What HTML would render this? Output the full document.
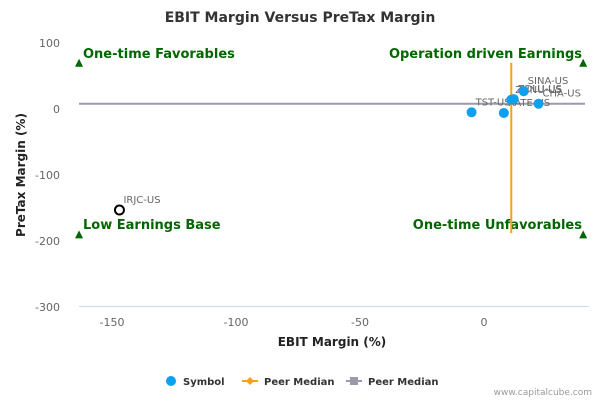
<!DOCTYPE html>
<html><head><meta charset="utf-8"><style>
body{margin:0;background:#fff;font-family:"DejaVu Sans","Liberation Sans",sans-serif}
text{font-family:"DejaVu Sans","Liberation Sans",sans-serif}
</style></head><body>
<svg id="c" width="600" height="400"></svg>
<script>
const names=["TST-US","RATE-US","ZHNU-US","ZDLU-US","SINA-US","CHA-US","IRJC-US"];
const ebit=[-5,8,11,12,16,22,-147];
const pretax=[-5,-6,14,15,27,8,-153];
const xTicks=[-150,-100,-50,0];
const yTicks=[100,0,-100,-200,-300];
const peerX=11, peerY=8;
const ns="http://www.w3.org/2000/svg";
const svg=document.getElementById('c');
const X=v=>484+v*2.48, Y=v=>109-v*0.66;
function mk(t,a,txt){const e=document.createElementNS(ns,t);for(const k in a)e.setAttribute(k,a[k]);if(txt!=null)e.textContent=txt;svg.appendChild(e);return e;}
let e;
e=mk('text',{x:300,y:22,'text-anchor':'middle','font-size':14,'font-weight':'bold',fill:'#333'},'EBIT Margin Versus PreTax Margin');

e=mk('line',{x1:79,x2:589,y1:306.5,y2:306.5,stroke:'#ccd6eb'});

xTicks.forEach(v=>{e=mk('text',{x:X(v),y:326,'text-anchor':'middle','font-size':11,fill:'#666'},v);
});
yTicks.forEach(v=>{e=mk('text',{x:60,y:Y(v)+4,'text-anchor':'end','font-size':11,fill:'#666'},v);
});
e=mk('text',{x:332,y:346,'text-anchor':'middle','font-size':12,'font-weight':'bold',fill:'#222'},'EBIT Margin (%)');

e=mk('text',{x:25,y:175,'text-anchor':'middle','font-size':12,'font-weight':'bold',fill:'#222',transform:'rotate(-90 25 175)'},'PreTax Margin (%)');

[[-163.3,70],[40,70],[-163.3,-190],[40,-190]].forEach(p=>{const x=X(p[0]),y=Y(p[1]);
e=mk('path',{d:`M${x-4} ${y+4}L${x} ${y-4}L${x+4} ${y+4}Z`,fill:'#006600'});
});
[["One-time Favorables",83,58,'start'],["Operation driven Earnings",582,58,'end'],["Low Earnings Base",83,229,'start'],["One-time Unfavorables",582,229,'end']].forEach(q=>{
e=mk('text',{x:q[1],y:q[2],'text-anchor':q[3],'font-size':13,'font-weight':'bold',fill:'#006600'},q[0]);
});
e=mk('line',{x1:79,x2:585,y1:Y(peerY),y2:Y(peerY),stroke:'#999aaa','stroke-width':2});

e=mk('line',{x1:X(peerX),x2:X(peerX),y1:Y(70),y2:Y(-188),stroke:'#f7a11a','stroke-width':2});

names.forEach((n,i)=>{const x=X(ebit[i]),y=Y(pretax[i]);const hl=n==="IRJC-US";
e=mk('circle',{cx:x,cy:y,r:hl?4.5:5,fill:hl?'#fff':'#0da0f0',stroke:hl?'#000':'none','stroke-width':2});

e=mk('text',{x:x+4,y:y-7,'font-size':10,fill:'#666'},n);
});
e=mk('circle',{cx:171,cy:381,r:5,fill:'#0da0f0'});
e=mk('text',{x:183,y:385,'font-size':10,'font-weight':'bold',fill:'#333'},'Symbol');
e=mk('line',{x1:242,x2:258,y1:381,y2:381,stroke:'#f7a11a','stroke-width':2});
e=mk('path',{d:'M250 377L254 381L250 385L246 381Z',fill:'#f7a11a'});
e=mk('text',{x:264,y:385,'font-size':10,'font-weight':'bold',fill:'#333'},'Peer Median');
e=mk('line',{x1:346,x2:362,y1:381,y2:381,stroke:'#999aaa','stroke-width':2});
e=mk('rect',{x:350,y:377,width:8,height:8,fill:'#999aaa'});
e=mk('text',{x:368,y:385,'font-size':10,'font-weight':'bold',fill:'#333'},'Peer Median');
e=mk('text',{x:592,y:395,'text-anchor':'end','font-size':9,fill:'#999'},'www.capitalcube.com');
</script>
</body></html>
